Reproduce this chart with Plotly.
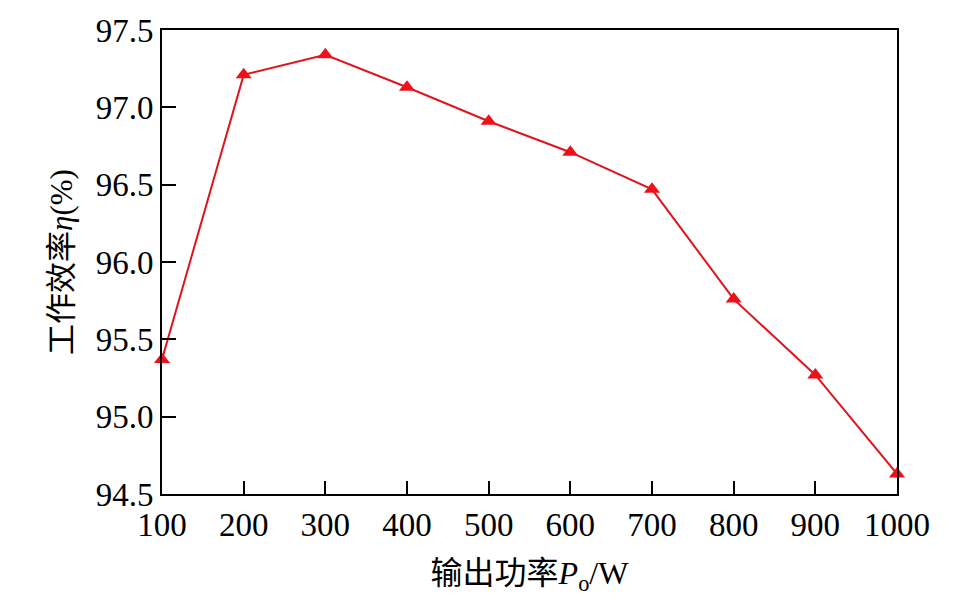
import plotly.graph_objects as go

power_w = [100, 200, 300, 400, 500, 600, 700, 800, 900, 1000]
efficiency = [95.37, 97.21, 97.34, 97.13, 96.91, 96.71, 96.47, 95.76, 95.27, 94.63]
x_ticks = [100, 200, 300, 400, 500, 600, 700, 800, 900, 1000]
y_ticks = [94.5, 95.0, 95.5, 96.0, 96.5, 97.0, 97.5]

FONT = "Liberation Serif, Times New Roman, Noto Sans CJK SC, serif"

fig = go.Figure()
fig.add_trace(go.Scatter(
    x=power_w, y=efficiency, mode="lines+markers",
    line=dict(color="#e0141c", width=2),
    marker=dict(symbol="triangle-up", size=14, color="#f0101a"),
    cliponaxis=False, showlegend=False,
))

fig.update_layout(
    width=955, height=604,
    margin=dict(l=162, r=58, t=30, b=110),
    plot_bgcolor="white", paper_bgcolor="white",
    font=dict(family=FONT, color="black", size=33),
)
fig.update_xaxes(
    range=[100, 1000], tickmode="array", tickvals=x_ticks,
    ticktext=[str(v) for v in x_ticks],
    showgrid=False, zeroline=False,
    showline=True, linecolor="black", linewidth=2, mirror=True,
    ticks="inside", ticklen=13, tickwidth=2, tickcolor="black",
    tickfont=dict(family=FONT, size=33),
    title=dict(text="输出功率<i>P</i><sub>o</sub>/W", font=dict(family=FONT, size=32), standoff=20),
)
fig.update_yaxes(
    range=[94.5, 97.5], tickmode="array", tickvals=y_ticks,
    ticktext=[f"{v:.1f}" for v in y_ticks],
    showgrid=False, zeroline=False,
    showline=True, linecolor="black", linewidth=2, mirror=True,
    ticks="inside", ticklen=14, tickwidth=2, tickcolor="black",
    tickfont=dict(family=FONT, size=33),
    title=dict(text="工作效率<i>η</i>(%)", font=dict(family=FONT, size=31), standoff=14),
)

fig.write_html("out.html")
